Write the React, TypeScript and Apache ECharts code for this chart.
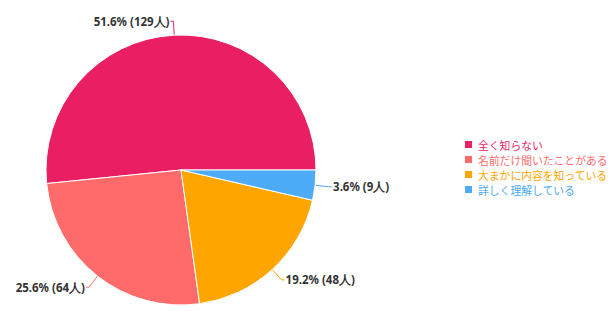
import React, { useEffect, useRef } from "react";
import * as echarts from "echarts";

const categories = ["全く知らない", "名前だけ聞いたことがある", "大まかに内容を知っている", "詳しく理解している"];
const counts = [129, 64, 48, 9];
const percents = [51.6, 25.6, 19.2, 3.6];
const colors = ["#E91E63", "#FF6B6B", "#FFA500", "#4DABF7"];

export default function App() {
  const ref = useRef<HTMLDivElement>(null);
  useEffect(() => {
    if (!ref.current) return;
    const chart = echarts.init(ref.current, undefined, { renderer: "svg" });
    chart.setOption({
      animation: false,
      backgroundColor: "#ffffff",
      legend: {
        orient: "vertical",
        left: 463,
        top: 139,
        padding: 0,
        itemWidth: 9,
        itemHeight: 9,
        itemGap: 4,
        icon: "rect",
        textStyle: { fontSize: 10.8, fontFamily: "Noto Sans CJK JP" },
        data: categories.map((c, i) => ({ name: c, textStyle: { color: colors[i] } })),
      },
      series: [
        {
          type: "pie",
          center: [181, 170],
          radius: 135,
          startAngle: 0,
          clockwise: false,
          color: colors,
          label: {
            show: true,
            color: "#333333",
            fontSize: 11.5,
            fontWeight: "bold",
            fontFamily: "Noto Sans, sans-serif",
            overflow: "none",
            distanceToLabelLine: 1,
            formatter: (p: any) => `${percents[p.dataIndex]}% (${counts[p.dataIndex]}人)`,
          },
          labelLine: { show: true, length: 14, length2: 3, smooth: false },
          itemStyle: { borderColor: "#ffffff", borderWidth: 1 },
          data: categories.map((c, i) => ({ name: c, value: counts[i] })),
        },
      ],
    });
    return () => chart.dispose();
  }, []);
  return <div ref={ref} style={{ position: "absolute", left: 0, top: 0, width: 613, height: 311 }} />;
}
